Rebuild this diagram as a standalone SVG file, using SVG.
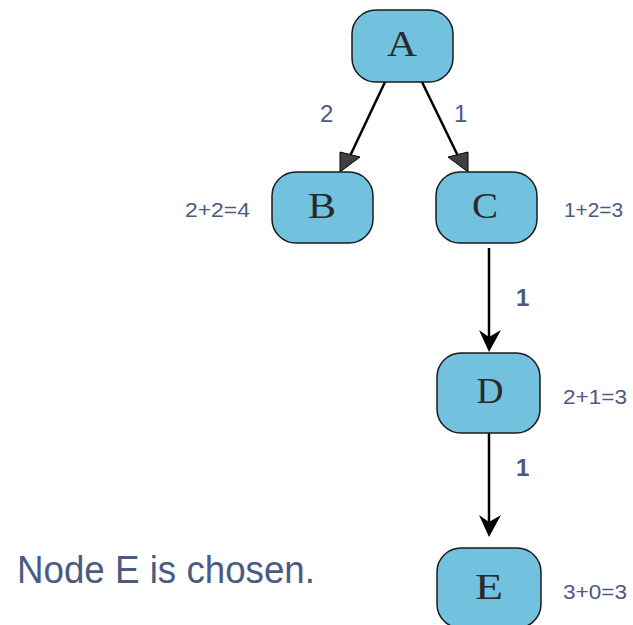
<svg xmlns="http://www.w3.org/2000/svg" width="633" height="625" viewBox="0 0 633 625">
<style>
.node{fill:#72C1DF;stroke:#1a1a1a;stroke-width:1.5}
.nl{font-family:"Liberation Serif","DejaVu Serif",serif;font-size:35px;fill:#2a2a2a;text-anchor:middle}
.lab{font-family:"Liberation Sans",Arial,sans-serif;font-size:21px;fill:#4A5A82}
.el{font-family:"Liberation Sans",Arial,sans-serif;font-size:24px;fill:#4A5A82}
.edge{stroke:#000;stroke-width:2.5;fill:none}
</style>
<rect width="633" height="625" fill="#fff"/>
<g id="connectors">
<line class="edge" x1="385" y1="82" x2="350" y2="156"/>
<polygon points="340,172 340,152 360,157" fill="#404040" stroke="#000" stroke-width="1"/>
<line class="edge" x1="422" y1="82" x2="458" y2="156"/>
<polygon points="468,172 448,157 468,152" fill="#404040" stroke="#000" stroke-width="1"/>
<line class="edge" x1="489" y1="248" x2="489" y2="340"/>
<polygon points="489,352 479,330 489,337 501,330" fill="#000"/>
<line class="edge" x1="489" y1="433" x2="489" y2="525"/>
<polygon points="489,537 479,515 489,522 501,515" fill="#000"/>
<text class="el" x="320" y="122">2</text>
<text class="el" x="454" y="122">1</text>
<text class="el" x="516" y="306" font-weight="bold">1</text>
<text class="el" x="516" y="476" font-weight="bold">1</text>
</g>
<g id="A"><rect class="node" x="352" y="10" width="101" height="72" rx="24"/><text class="nl" x="402" y="56" textLength="30" lengthAdjust="spacingAndGlyphs">A</text></g>
<g id="B"><rect class="node" x="272" y="172" width="101" height="71" rx="24"/><text class="nl" x="322" y="218" textLength="28" lengthAdjust="spacingAndGlyphs">B</text><text class="lab" x="185" y="217" textLength="65" lengthAdjust="spacingAndGlyphs">2+2=4</text></g>
<g id="C"><rect class="node" x="436" y="172" width="101" height="71" rx="24"/><text class="nl" x="485" y="218" textLength="26" lengthAdjust="spacingAndGlyphs">C</text><text class="lab" x="564" y="217" textLength="59" lengthAdjust="spacingAndGlyphs">1+2=3</text></g>
<g id="D"><rect class="node" x="437" y="353" width="103" height="80" rx="24"/><text class="nl" x="490" y="403" textLength="27" lengthAdjust="spacingAndGlyphs">D</text><text class="lab" x="563" y="404" textLength="64" lengthAdjust="spacingAndGlyphs">2+1=3</text></g>
<g id="E"><rect class="node" x="437" y="548" width="104" height="80" rx="24"/><text class="nl" x="489" y="599" textLength="28" lengthAdjust="spacingAndGlyphs">E</text><text class="lab" x="563" y="599" textLength="64" lengthAdjust="spacingAndGlyphs">3+0=3</text></g>
<text x="17" y="583" font-family="Liberation Sans,Arial,sans-serif" font-size="38" fill="#4A5A82" textLength="298" lengthAdjust="spacingAndGlyphs">Node E is chosen.</text>
</svg>
